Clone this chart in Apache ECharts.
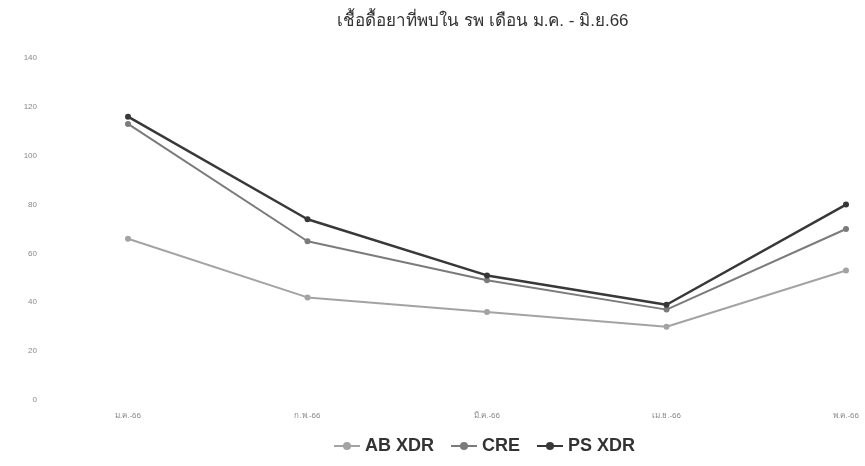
<!DOCTYPE html>
<html>
<head>
<meta charset="utf-8">
<style>html,body{margin:0;padding:0;background:#fff}#c{width:865px;height:466px}</style>
<script src="https://cdn.jsdelivr.net/npm/echarts@6/dist/echarts.min.js"></script>
</head>
<body>
<div id="c"></div>
<script>
const titleText = 'เชื้อดื้อยาที่พบใน รพ เดือน ม.ค. - มิ.ย.66';
const categories = ['ม.ค.-66', 'ก.พ.-66', 'มี.ค.-66', 'เม.ย.-66', 'พ.ค.-66'];
const abXdr = [66, 42, 36, 30, 53];
const cre = [113, 65, 49, 37, 70];
const psXdr = [116, 74, 51, 39, 80];

const chart = echarts.init(document.getElementById('c'));
const mk = (name, data, color, w) => ({
  name, type: 'line', data,
  symbol: 'circle', symbolSize: 6,
  lineStyle: { color, width: w },
  itemStyle: { color },
  z: name === 'PS XDR' ? 3 : 2
});
chart.setOption({
  animation: false,
  title: {
    text: titleText, left: 478, top: 8, textAlign: 'center',
    textStyle: { fontSize: 17, fontWeight: 'normal', color: '#333' }
  },
  legend: {
    bottom: 6, left: 328, itemGap: 16, itemWidth: 26, itemHeight: 10,
    textStyle: { fontSize: 18, fontWeight: 'bold', color: '#333' },
    data: ['AB XDR', 'CRE', 'PS XDR']
  },
  grid: { left: 128, right: 19, top: 58, bottom: 66 },
  xAxis: {
    type: 'category', data: categories, boundaryGap: false,
    axisLine: { show: false }, axisTick: { show: false },
    axisLabel: { fontSize: 8, color: '#888', margin: 12 }
  },
  yAxis: {
    type: 'value', min: 0, max: 140, interval: 20,
    axisLine: { show: false }, axisTick: { show: false },
    splitLine: { show: false },
    axisLabel: { fontSize: 8, color: '#888', margin: 91 }
  },
  series: [
    mk('AB XDR', abXdr, '#a3a3a3', 2),
    mk('CRE', cre, '#7b7b7b', 2),
    mk('PS XDR', psXdr, '#383838', 2.5)
  ]
});
</script>
</body>
</html>
